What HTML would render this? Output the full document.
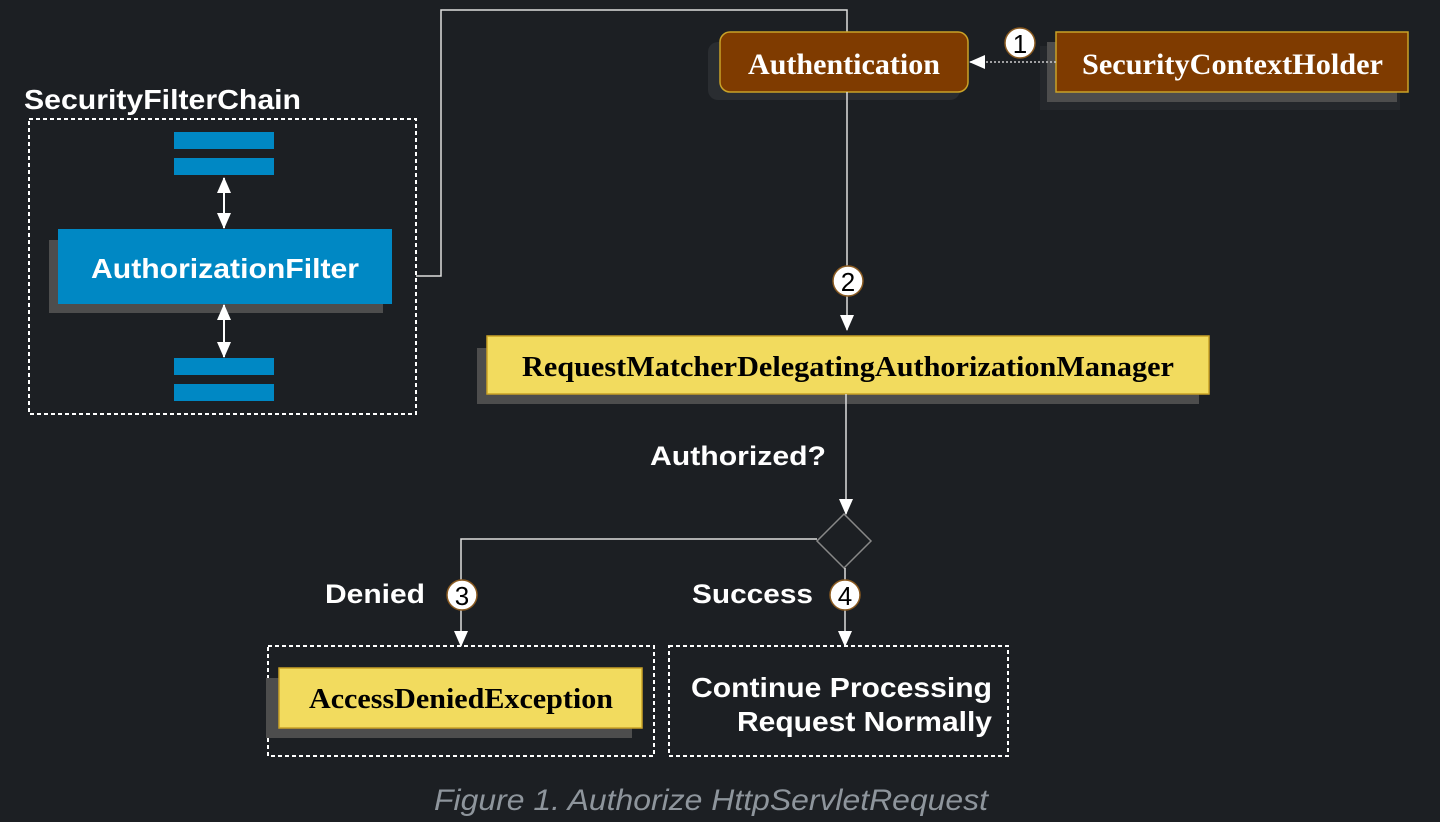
<!DOCTYPE html>
<html><head><meta charset="utf-8"><style>
html,body{margin:0;padding:0;background:#1c1f23;}
svg{display:block}
.sans{font-family:"Liberation Sans",sans-serif;font-weight:bold;}
.serif{font-family:"Liberation Serif",serif;font-weight:bold;}
</style></head><body>
<svg width="1440" height="822" viewBox="0 0 1440 822" xmlns="http://www.w3.org/2000/svg">
<defs>
<marker id="ah" markerWidth="16" markerHeight="14" refX="15" refY="7" orient="auto" markerUnits="userSpaceOnUse" viewBox="0 0 16 14">
<path d="M0,0 L16,7 L0,14 z" fill="#fff"/></marker>
<marker id="ahs" markerWidth="16" markerHeight="14" refX="1" refY="7" orient="auto" markerUnits="userSpaceOnUse" viewBox="0 0 16 14">
<path d="M16,0 L0,7 L16,14 z" fill="#fff"/></marker>
</defs>
<rect width="1440" height="822" fill="#1c1f23"/>

<text x="24" y="109" class="sans" font-size="28" fill="#fff" textLength="277" lengthAdjust="spacingAndGlyphs">SecurityFilterChain</text>
<rect x="29" y="119" width="387" height="295" fill="none" stroke="#fff" stroke-width="2" stroke-dasharray="4,3"/>
<rect x="174" y="132" width="100" height="17" fill="#0088c4"/>
<rect x="174" y="158" width="100" height="17" fill="#0088c4"/>
<rect x="174" y="358" width="100" height="17" fill="#0088c4"/>
<rect x="174" y="384" width="100" height="17" fill="#0088c4"/>
<rect x="49" y="240" width="334" height="73" fill="#4d4d4d"/>
<rect x="58" y="229" width="334" height="75" fill="#0088c4"/>
<text x="91" y="278" class="sans" font-size="28" fill="#fff" textLength="268" lengthAdjust="spacingAndGlyphs">AuthorizationFilter</text>
<line x1="224" y1="178" x2="224" y2="228" stroke="#fff" stroke-width="2" marker-start="url(#ahs)" marker-end="url(#ah)"/>
<line x1="224" y1="305" x2="224" y2="357" stroke="#fff" stroke-width="2" marker-start="url(#ahs)" marker-end="url(#ah)"/>

<polyline points="416,276 441,276 441,10 847,10 847,32" fill="none" stroke="#ddd" stroke-width="1.5"/>

<rect x="708" y="42" width="252" height="58" rx="10" fill="#2a2d31"/>
<rect x="720" y="32" width="248" height="60" rx="10" fill="#7f3b00" stroke="#c9a227" stroke-width="1.5"/>
<text x="748" y="74" class="serif" font-size="30" fill="#fff" textLength="192" lengthAdjust="spacingAndGlyphs">Authentication</text>

<rect x="1040" y="46" width="360" height="64" fill="#24272b"/>
<rect x="1047" y="42" width="350" height="60" fill="#4d4d4d"/>
<rect x="1056" y="32" width="352" height="60" fill="#7f3b00" stroke="#c9a227" stroke-width="1.5"/>
<text x="1082" y="74" class="serif" font-size="30" fill="#fff" textLength="301" lengthAdjust="spacingAndGlyphs">SecurityContextHolder</text>
<line x1="1056" y1="62" x2="970" y2="62" stroke="#ccc" stroke-width="1.5" stroke-dasharray="2,2" marker-end="url(#ah)"/>
<circle cx="1020" cy="43" r="15" fill="#fff" stroke="#8a5a20" stroke-width="1.5"/>
<text x="1020" y="53" text-anchor="middle" font-family="Liberation Sans,sans-serif" font-size="26" fill="#000">1</text>

<line x1="847" y1="92" x2="847" y2="330" stroke="#ddd" stroke-width="1.5" marker-end="url(#ah)"/>
<circle cx="848" cy="281" r="15" fill="#fff" stroke="#8a5a20" stroke-width="1.5"/>
<text x="848" y="291" text-anchor="middle" font-family="Liberation Sans,sans-serif" font-size="26" fill="#000">2</text>

<rect x="477" y="348" width="722" height="56" fill="#4d4d4d"/>
<rect x="487" y="336" width="722" height="58" fill="#f2db5e" stroke="#c9a227" stroke-width="1.5"/>
<text x="522" y="376" class="serif" font-size="29" fill="#000" textLength="652" lengthAdjust="spacingAndGlyphs">RequestMatcherDelegatingAuthorizationManager</text>

<text x="650" y="465" class="sans" font-size="27" fill="#fff" textLength="176" lengthAdjust="spacingAndGlyphs">Authorized?</text>
<line x1="846" y1="394" x2="846" y2="514" stroke="#ddd" stroke-width="1.5" marker-end="url(#ah)"/>
<polygon points="844,514 871,541 844,568 817,541" fill="none" stroke="#888" stroke-width="1.5"/>

<polyline points="817,539 461,539 461,646" fill="none" stroke="#ddd" stroke-width="1.5" marker-end="url(#ah)"/>
<line x1="845" y1="568" x2="845" y2="646" stroke="#ddd" stroke-width="1.5" marker-end="url(#ah)"/>
<text x="325" y="603" class="sans" font-size="27" fill="#fff" textLength="100" lengthAdjust="spacingAndGlyphs">Denied</text>
<circle cx="462" cy="595" r="15" fill="#fff" stroke="#8a5a20" stroke-width="1.5"/>
<text x="462" y="605" text-anchor="middle" font-family="Liberation Sans,sans-serif" font-size="26" fill="#000">3</text>
<text x="692" y="603" class="sans" font-size="27" fill="#fff" textLength="121" lengthAdjust="spacingAndGlyphs">Success</text>
<circle cx="845" cy="595" r="15" fill="#fff" stroke="#8a5a20" stroke-width="1.5"/>
<text x="845" y="605" text-anchor="middle" font-family="Liberation Sans,sans-serif" font-size="26" fill="#000">4</text>

<rect x="268" y="646" width="386" height="110" fill="none" stroke="#fff" stroke-width="2" stroke-dasharray="4,3"/>
<rect x="266" y="678" width="366" height="60" fill="#4d4d4d"/>
<rect x="279" y="668" width="363" height="60" fill="#f2db5e" stroke="#c9a227" stroke-width="1.5"/>
<text x="309" y="708" class="serif" font-size="29" fill="#000" textLength="304" lengthAdjust="spacingAndGlyphs">AccessDeniedException</text>

<rect x="669" y="646" width="339" height="110" fill="none" stroke="#fff" stroke-width="2" stroke-dasharray="4,3"/>
<text x="691" y="697" class="sans" font-size="28" fill="#fff" textLength="301" lengthAdjust="spacingAndGlyphs">Continue Processing</text>
<text x="737" y="731" class="sans" font-size="28" fill="#fff" textLength="255" lengthAdjust="spacingAndGlyphs">Request Normally</text>

<text x="434" y="810" font-family="Liberation Sans,sans-serif" font-style="italic" font-size="30" fill="#8e959c" textLength="554" lengthAdjust="spacingAndGlyphs">Figure 1. Authorize HttpServletRequest</text>
</svg>
</body></html>
